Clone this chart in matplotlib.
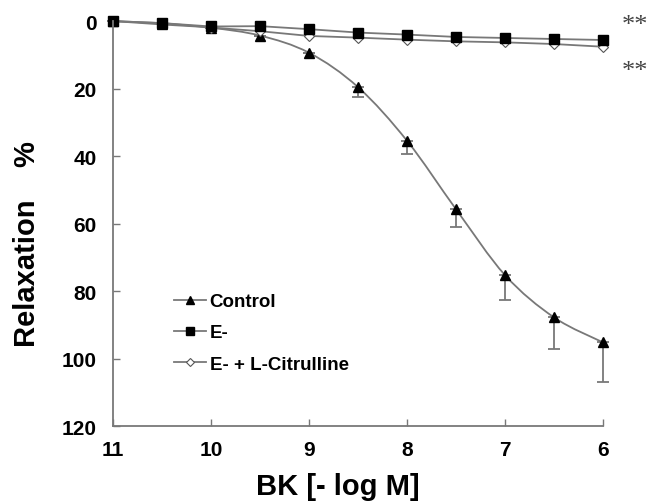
import numpy as np
import matplotlib.pyplot as plt
from matplotlib.path import Path
from matplotlib.patches import PathPatch
from matplotlib.lines import Line2D

plt.rcParams['font.family'] = ['Liberation Sans', 'DejaVu Sans']

# concentrations, -log M
conc = [11, 10.5, 10, 9.5, 9, 8.5, 8, 7.5, 7, 6.5, 6]
control = [0, 1.0, 2.0, 4.3, 9.4, 19.6, 35.5, 55.8, 75.3, 87.8, 95.2]
control_err = [0, 0, 0, 0, 0, 3.0, 4.0, 5.2, 7.4, 9.2, 11.8]
e_minus = [0, 0.6, 1.6, 1.5, 2.4, 3.4, 4.0, 4.7, 5.0, 5.3, 5.6]
e_citrulline = [0, 0.6, 1.9, 3.0, 4.4, 4.9, 5.5, 6.0, 6.3, 6.8, 7.6]

grey = '#787878'


def smooth_path(x, y, t=1 / 6):
    # excel-style smoothed line through the points (cubic bezier segments)
    x = np.asarray(x, float)
    y = np.asarray(y, float)
    verts = [(x[0], y[0])]
    codes = [Path.MOVETO]
    n = len(x)
    for i in range(n - 1):
        x0, y0 = (x[i - 1], y[i - 1]) if i > 0 else (x[i], y[i])
        x3, y3 = (x[i + 2], y[i + 2]) if i + 2 < n else (x[i + 1], y[i + 1])
        c1 = (x[i] + (x[i + 1] - x0) * t, y[i] + (y[i + 1] - y0) * t)
        c2 = (x[i + 1] - (x3 - x[i]) * t, y[i + 1] - (y3 - y[i]) * t)
        verts += [c1, c2, (x[i + 1], y[i + 1])]
        codes += [Path.CURVE4] * 3
    return Path(verts, codes)


fig = plt.figure(figsize=(6.5, 5.02), dpi=100)
ax = fig.add_axes([0.174, 0.149, 0.754, 0.807])

ax.add_patch(PathPatch(smooth_path(conc, control), fill=False, edgecolor=grey,
                       lw=1.3, clip_on=False))
ax.errorbar(conc, control, yerr=[np.zeros(len(conc)), control_err], fmt='none',
            ecolor=grey, elinewidth=1.3, capsize=4, capthick=1.3, clip_on=False)
ax.plot(conc, control, ls='none', marker='^', ms=7.5, color='black', clip_on=False)

ax.plot(conc, e_citrulline, color=grey, lw=1.3, marker='D', ms=5, mfc='white',
        mec='#555555', mew=0.8, clip_on=False)
ax.plot(conc, e_minus, color=grey, lw=1.3, marker='s', ms=7.5, mfc='black',
        mec='black', clip_on=False)

ax.set_xlim(11, 6)
ax.set_ylim(120, 0)
ax.set_xticks([11, 10, 9, 8, 7, 6])
ax.set_yticks([0, 20, 40, 60, 80, 100, 120])
ax.tick_params(direction='in', length=5, width=1, color=grey, labelsize=15)
for lab in ax.get_xticklabels() + ax.get_yticklabels():
    lab.set_fontweight('bold')
ax.tick_params(axis='x', pad=10)
ax.tick_params(axis='y', pad=12)

for side in ['top', 'right']:
    ax.spines[side].set_visible(False)
for side in ['left', 'bottom']:
    ax.spines[side].set_color(grey)
    ax.spines[side].set_linewidth(1.3)

ax.set_xlabel('BK [- log M]', fontsize=21, fontweight='bold')
ax.xaxis.set_label_coords(0.459, -0.114)
ax.set_ylabel('Relaxation    %', fontsize=21, fontweight='bold')
ax.yaxis.set_label_coords(-0.147, 0.453)

handles = [
    Line2D([], [], color=grey, lw=1.3, marker='^', ms=6, mfc='black', mec='black'),
    Line2D([], [], color=grey, lw=1.3, marker='s', ms=6, mfc='black', mec='black'),
    Line2D([], [], color=grey, lw=1.3, marker='D', ms=4.5, mfc='white', mec='#555555', mew=0.8),
]
ax.legend(handles, ['Control', 'E-', 'E- + L-Citrulline'], loc='upper left',
          bbox_to_anchor=(0.09, 0.37), frameon=False, handlelength=1.7,
          handletextpad=0.2, labelspacing=0.75, prop={'size': 13.5, 'weight': 'bold'})

# significance marks
ax.text(5.54, 1.2, '**', fontsize=19, color='#444444', ha='right', va='center',
        family='Liberation Serif', clip_on=False)
ax.text(5.54, 14.7, '**', fontsize=19, color='#444444', ha='right', va='center',
        family='Liberation Serif', clip_on=False)

fig.savefig('out.png', dpi=100)
